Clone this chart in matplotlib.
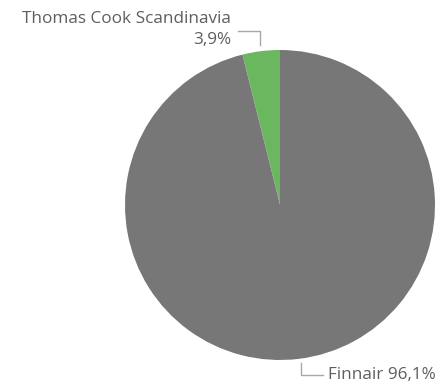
import matplotlib
matplotlib.use("Agg")
import matplotlib.pyplot as plt

# ── Data ──────────────────────────────────────────────────────────────────────
carriers = ["Thomas Cook Scandinavia", "Finnair"]
shares   = [3.9, 96.1]
colors   = ["#6bb75f", "#777777"]

W, H = 444, 386
fig = plt.figure(figsize=(W / 100, H / 100), dpi=100)
ax = fig.add_axes([0, 0, 1, 1])

# pie laid out in pixel coords (y up)
cx, cy, r = 280, H - 205, 155
ax.pie(shares, colors=colors, startangle=90, counterclock=True,
       center=(cx, cy), radius=r, wedgeprops=dict(linewidth=0))
ax.set_xlim(0, W)
ax.set_ylim(0, H)
ax.set_aspect("equal")
ax.axis("off")

TXT  = "#605e5c"
LINE = "#a8a8a8"
FONT = "Open Sans"
FS   = 12.3

# Thomas Cook label (top left)
ax.plot([238, 260, 260], [H - 31, H - 31, H - 45], color=LINE, lw=1)
ax.text(231, H - 19, carriers[0], ha="right", va="center",
        fontsize=FS, color=TXT, family=FONT)
ax.text(231, H - 40, f"{shares[0]:.1f}%".replace(".", ","), ha="right",
        va="center", fontsize=FS, color=TXT, family=FONT)

# Finnair label (bottom right)
ax.plot([301, 301, 323], [H - 363, H - 375, H - 375], color=LINE, lw=1)
ax.text(328, H - 375, f"{carriers[1]} {shares[1]:.1f}%".replace(".", ","),
        ha="left", va="center", fontsize=FS, color=TXT, family=FONT)

fig.savefig("out.png", dpi=100, facecolor="white")
